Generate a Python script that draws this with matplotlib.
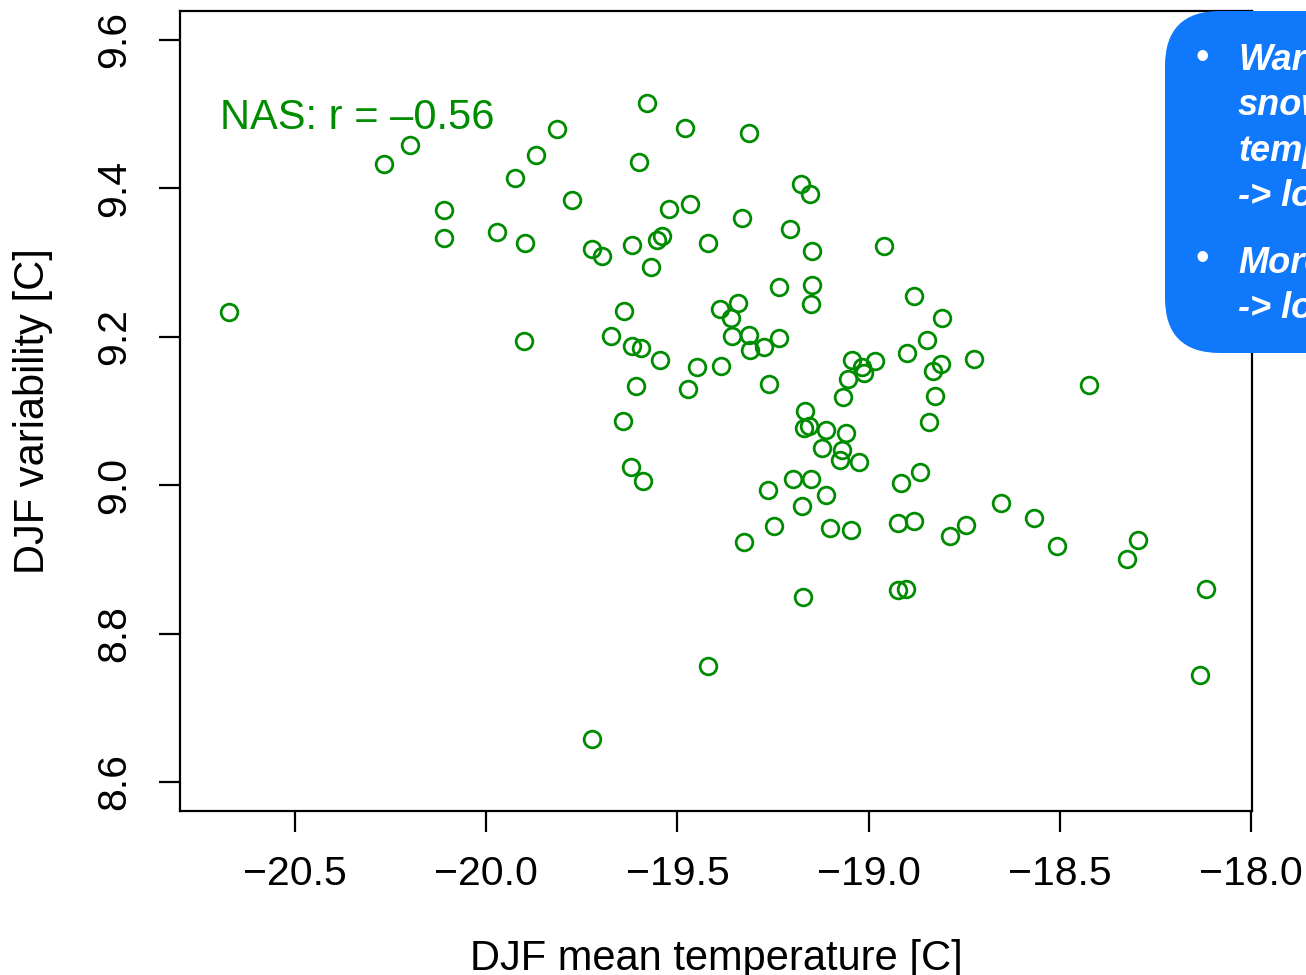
import matplotlib
matplotlib.use("Agg")
import matplotlib.pyplot as plt
from matplotlib.patches import FancyBboxPatch
from matplotlib.transforms import IdentityTransform

plt.rcParams['font.family'] = ['Liberation Sans', 'DejaVu Sans']

# DJF mean temperature and DJF variability, one point per member
djf_mean = [
    -20.673, -20.267, -20.199, -20.110, -20.110, -19.972, -19.925, -19.899, -19.870, -19.815,
    -19.901, -19.776, -19.723, -19.697, -19.580, -19.600, -19.480, -19.313, -19.619, -19.569,
    -19.553, -19.540, -19.522, -19.467, -19.420, -19.331, -19.640, -19.674, -19.619, -19.595,
    -19.546, -19.608, -19.449, -19.386, -19.472, -19.389, -19.342, -19.360, -19.357, -19.313,
    -19.310, -19.274, -19.234, -19.260, -19.234, -19.206, -19.177, -19.153, -19.148, -19.148,
    -19.151, -19.642, -19.621, -19.590, -19.166, -19.169, -19.156, -19.111, -19.122, -19.059,
    -19.067, -19.054, -19.043, -19.017, -19.012, -18.983, -19.070, -19.075, -19.025, -18.960,
    -18.881, -18.808, -18.847, -18.900, -18.832, -18.811, -18.826, -18.842, -18.724, -18.424,
    -18.866, -18.915, -19.263, -19.198, -19.151, -19.174, -19.111, -19.247, -19.326, -19.101,
    -19.046, -18.923, -18.881, -18.787, -18.745, -18.654, -18.568, -18.507, -18.324, -18.296,
    -18.118, -18.133, -18.923, -18.902, -19.172, -19.420, -19.723,
]
djf_var = [
    9.233, 9.433, 9.458, 9.371, 9.333, 9.341, 9.414, 9.326, 9.445, 9.480,
    9.194, 9.384, 9.318, 9.309, 9.515, 9.436, 9.481, 9.475, 9.324, 9.294,
    9.330, 9.336, 9.372, 9.379, 9.326, 9.360, 9.235, 9.201, 9.188, 9.185,
    9.169, 9.134, 9.159, 9.161, 9.130, 9.237, 9.246, 9.225, 9.201, 9.202,
    9.182, 9.186, 9.198, 9.136, 9.267, 9.345, 9.406, 9.392, 9.316, 9.270,
    9.244, 9.087, 9.025, 9.006, 9.100, 9.077, 9.080, 9.074, 9.050, 9.070,
    9.119, 9.143, 9.169, 9.159, 9.151, 9.167, 9.047, 9.034, 9.031, 9.322,
    9.255, 9.225, 9.196, 9.178, 9.154, 9.163, 9.120, 9.085, 9.170, 9.135,
    9.018, 9.003, 8.994, 9.008, 9.008, 8.972, 8.987, 8.945, 8.923, 8.942,
    8.940, 8.949, 8.952, 8.932, 8.946, 8.976, 8.956, 8.918, 8.901, 8.926,
    8.860, 8.744, 8.859, 8.860, 8.849, 8.756, 8.658,
]

x_ticks = [-20.5, -20.0, -19.5, -19.0, -18.5, -18.0]
y_ticks = [8.6, 8.8, 9.0, 9.2, 9.4, 9.6]
corr_label = "NAS: r = \u20130.56"
box_lines = ["Warm", "snow", "temp", "-> lo", "More", "-> lo"]

W, H = 1306, 975
fig = plt.figure(figsize=(W / 100, H / 100), dpi=100)
ax = fig.add_axes([180 / W, 1 - 811 / H, (1252 - 180) / W, (811 - 11) / H])

green = '#008C00'
ax.plot(djf_mean, djf_var, 'o', mfc='none', mec=green, ms=12, mew=2.0)

ax.set_xlim(-20.801, -17.997)
ax.set_ylim(8.561, 9.639)

ax.set_xticks(x_ticks)
ax.set_xticklabels([f"{v:.1f}".replace('-', '\u2212') for v in x_ticks])
ax.set_yticks(y_ticks)
ax.set_yticklabels([f"{v:.1f}" for v in y_ticks], rotation=90, va='center')
ax.tick_params(length=15, width=1.6, labelsize=29.5, pad=17, color='black')
ax.tick_params(axis='y', pad=19)
for s in ax.spines.values():
    s.set_linewidth(1.6)

ax.text(0.0373, 0.8525, corr_label, transform=ax.transAxes, color=green,
        fontsize=30, va='baseline', ha='left')

fig.text(716 / W, 1 - 970 / H, "DJF mean temperature [C]", fontsize=30,
         ha='center', va='baseline')
fig.text(33 / W, 1 - 411 / H, "DJF variability [C]", fontsize=30,
         ha='center', va='center', rotation=90)

# callout box on the top right, drawn in pixel units
box = FancyBboxPatch((1165, H - 353), 300, 342,
                     boxstyle="round,pad=0,rounding_size=55",
                     transform=IdentityTransform(), facecolor='#1078FA',
                     edgecolor='none', zorder=5)
fig.add_artist(box)

baselines = [70, 115, 161, 206, 273, 318]
for txt, b in zip(box_lines, baselines):
    fig.text(1238 / W, 1 - b / H, txt, fontsize=26, color='white',
             fontweight='bold', fontstyle='italic', va='baseline', ha='left',
             zorder=6)
for c in [59, 260]:
    fig.text(1202 / W, 1 - c / H, "\u2022", fontsize=28, color='white',
             va='center', ha='center', zorder=6)

fig.savefig("out.png", dpi=100)
